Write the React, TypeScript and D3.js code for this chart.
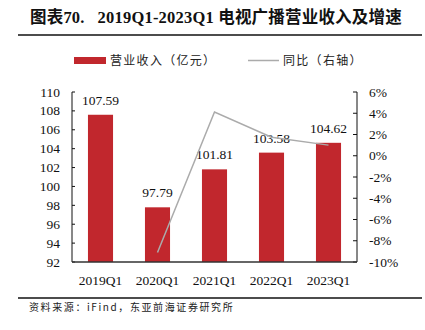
import React from "react";
import * as d3 from "d3";

const categories = ["2019Q1", "2020Q1", "2021Q1", "2022Q1", "2023Q1"];
const revenue = [107.59, 97.79, 101.81, 103.58, 104.62];
const yoy: (number | null)[] = [null, -9.1, 4.11, 1.74, 1.0];
const leftTicks = [92, 94, 96, 98, 100, 102, 104, 106, 108, 110];
const rightTicks = [-10, -8, -6, -4, -2, 0, 2, 4, 6];

const W = 425, H = 330;
const M = { left: 72, right: 357, top: 92, bottom: 262 };
const SERIF = '"Liberation Serif", "Times New Roman", "Noto Sans CJK SC", serif';
const CJK = '"Noto Sans CJK SC", "Liberation Serif", serif';
const RED = "#C1272D";
const GREY = "#ABABAB";

export default function App() {
  const x = d3.scaleBand<string>().domain(categories).range([M.left, M.right]).paddingInner(0.56).paddingOuter(0.28);
  const yL = d3.scaleLinear().domain([92, 110]).range([M.bottom, M.top]);
  const yR = d3.scaleLinear().domain([-10, 6]).range([M.bottom, M.top]);
  const line = d3
    .line<[string, number | null]>()
    .defined((d) => d[1] !== null)
    .x((d) => (x(d[0]) as number) + x.bandwidth() / 2)
    .y((d) => yR(d[1] as number));
  const pairs = categories.map((c, i) => [c, yoy[i]] as [string, number | null]);

  return (
    <svg width={W} height={H} style={{ position: "absolute", left: 0, top: 0, background: "#fff" }}>
      <text x={30} y={23} fontFamily={SERIF} fontWeight="bold" fontSize={16.5} fill="#111" style={{ whiteSpace: "pre" }} letterSpacing={0.2}>
        {"图表70.   2019Q1-2023Q1 电视广播营业收入及增速"}
      </text>
      <line x1={18} x2={422} y1={35} y2={35} stroke="#111" strokeWidth={1.5} />

      {/* legend */}
      <rect x={74} y={57} width={32} height={7} fill={RED} />
      <text x={110} y={65} fontFamily={CJK} fontSize={12} letterSpacing={1.3} fill="#222">营业收入（亿元）</text>
      <line x1={248} x2={279} y1={60.5} y2={60.5} stroke={GREY} strokeWidth={1.5} />
      <text x={283} y={65} fontFamily={CJK} fontSize={12} letterSpacing={1.3} fill="#222">同比（右轴）</text>

      {/* bars */}
      {categories.map((c, i) => (
        <g key={c}>
          <rect x={x(c)} y={yL(revenue[i])} width={x.bandwidth()} height={M.bottom - yL(revenue[i])} fill={RED} />
          <text
            x={(x(c) as number) + x.bandwidth() / 2}
            y={yL(revenue[i]) - 10}
            textAnchor="middle"
            fontFamily={SERIF}
            fontSize={13.5}
            fill="#111"
          >
            {revenue[i].toFixed(2)}
          </text>
          <text
            x={(x(c) as number) + x.bandwidth() / 2}
            y={285}
            textAnchor="middle"
            fontFamily={SERIF}
            fontSize={13.5}
            fill="#111"
          >
            {c}
          </text>
        </g>
      ))}

      <path d={line(pairs) || ""} fill="none" stroke={GREY} strokeWidth={1.5} />

      {/* left axis */}
      <line x1={M.left} x2={M.left} y1={M.top} y2={M.bottom} stroke="#111" strokeWidth={1} />
      {leftTicks.map((t) => (
        <g key={t}>
          <line x1={M.left} x2={M.left + 3} y1={yL(t)} y2={yL(t)} stroke="#111" />
          <text x={60} y={yL(t) + 4.5} textAnchor="end" fontFamily={SERIF} fontSize={13.5} fill="#111">
            {t}
          </text>
        </g>
      ))}

      {/* right axis */}
      <line x1={M.right} x2={M.right} y1={M.top} y2={M.bottom} stroke="#111" strokeWidth={1} />
      {rightTicks.map((t) => (
        <g key={t}>
          <line x1={M.right - 4} x2={M.right} y1={yR(t)} y2={yR(t)} stroke="#111" />
          <text x={369} y={yR(t) + 4.5} textAnchor="start" fontFamily={SERIF} fontSize={13.5} fill="#111">
            {t}%
          </text>
        </g>
      ))}

      {/* bottom axis */}
      <line x1={M.left} x2={M.right} y1={M.bottom} y2={M.bottom} stroke="#333" strokeWidth={1.5} />

      <line x1={18} x2={422} y1={298} y2={298} stroke="#111" strokeWidth={1.5} />
      <text x={29} y={311} fontFamily={CJK} fontSize={10} letterSpacing={1.6} fill="#222">
        资料来源：iFind，东亚前海证券研究所
      </text>
    </svg>
  );
}
